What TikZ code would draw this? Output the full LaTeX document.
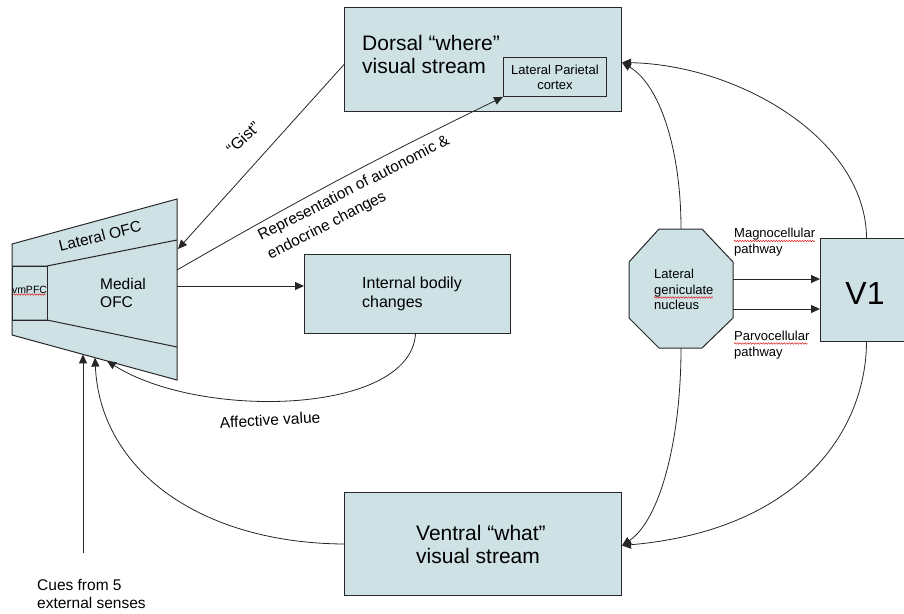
\documentclass[tikz,border=0pt]{standalone}
\usepackage{fontspec}
\setmainfont{Liberation Sans}
\usetikzlibrary{arrows.meta,decorations.pathmorphing}
\definecolor{boxfill}{RGB}{206,226,230}
\definecolor{edgecol}{RGB}{40,40,40}
\begin{document}
\begin{tikzpicture}[x=1pt,y=-1pt,
  box/.style={draw=edgecol, line width=1pt, fill=boxfill, inner sep=0pt},
  conn/.style={draw=black!85, line width=0.8pt},
  arr/.style={conn, -{Triangle[length=9pt,width=8pt]}},
  lbl/.style={inner sep=0pt, align=left},
  squig/.style={draw=red!85!black, line width=0.4pt, decorate,
    decoration={snake, amplitude=0.8pt, segment length=2.6pt}},
  fbig/.style={font=\fontsize{21}{22.5}\selectfont},
  fmid/.style={font=\fontsize{15.5}{18.5}\selectfont},
  fsmall/.style={font=\fontsize{13}{15.5}\selectfont},
]
\useasboundingbox (0,0) rectangle (904,613);

% ---------- OFC trapezoid ----------
\draw[edgecol, line width=1pt, fill=boxfill] (12,244) -- (177,199) -- (177,380) -- (12,335) -- cycle;
\draw[edgecol, line width=1pt] (12,266) -- (47,266) -- (177,240);
\draw[edgecol, line width=1pt] (12,320) -- (47,320) -- (177,347);
\node[draw=edgecol, line width=1pt, minimum width=35pt, minimum height=54pt, inner sep=0pt, anchor=north west] (vmpfc) at (12,266) {};
\begin{scope}
  \clip (12.5,266.5) rectangle (46.5,319.5);
  \node[inner sep=0pt, font=\fontsize{10.5}{12}\selectfont] (vmtext) at (29.5,290) {vmPFC};
\end{scope}
\draw[squig] (13,294.5) -- (46,294.5);
\node[lbl, fmid, rotate=14] (latofc) at (100,236) {Lateral OFC};
\node[lbl, fmid, anchor=west] (medofc) at (100,293) {Medial\\OFC};

\coordinate (ofcGist) at (178,249);
\coordinate (ofcRep)  at (177,270);
\coordinate (ofcMed)  at (177,286);
\coordinate (ofcB1)   at (83,354.4);
\coordinate (ofcB2)   at (95,357.6);
\coordinate (ofcB3)   at (107,360.9);

% ---------- Boxes ----------
\node[box, minimum width=277pt, minimum height=104pt, anchor=north west] (dorsal) at (344,7) {};
\node[lbl, fbig, anchor=west] (dorsaltxt) at (362,54.5) {Dorsal “where”\\visual stream};
\node[box, line width=0.9pt, minimum width=103pt, minimum height=39pt, anchor=north west, align=center,
      font=\fontsize{13}{15}\selectfont] (lp) at (503,57) {Lateral Parietal\\cortex};

\node[box, minimum width=206pt, minimum height=79pt, anchor=north west] (ibc) at (304,254) {};
\node[lbl, font=\fontsize{16}{18.5}\selectfont, anchor=west] (ibctxt) at (362,294) {Internal bodily\\changes};

\node[box, minimum width=277pt, minimum height=103pt, anchor=north west] (ventral) at (344,492) {};
\node[lbl, fbig, anchor=west] (ventraltxt) at (416,544.5) {Ventral “what”\\visual stream};

\node[box, minimum width=85pt, minimum height=103pt, anchor=north west] (v1) at (820,238) {};
\node[inner sep=0pt, font=\fontsize{32}{34}\selectfont] (v1txt) at (865,293) {V1};

% ---------- LGN octagon ----------
\draw[edgecol, line width=1pt, fill=boxfill]
  (659,229) -- (702,229) -- (733,262) -- (733,318) -- (702,348) -- (659,348) -- (629,318) -- (629,262) -- cycle;
\node[minimum width=104pt, minimum height=119pt, inner sep=0pt] (lgn) at (681,288.5) {};
\node[lbl, fsmall, anchor=west] (lgntxt) at (654,289.5) {Lateral\\geniculate\\nucleus};
\draw[squig] (654,297.5) -- (713,297.5);

% ---------- Pathway labels ----------
\node[lbl, fsmall, anchor=west] (magno) at (734,242) {Magnocellular\\pathway};
\draw[squig] (734,241) -- (815,241);
\node[lbl, fsmall, anchor=west] (parvo) at (734,345) {Parvocellular\\pathway};
\draw[squig] (734,343.5) -- (808,343.5);

\coordinate (m1) at ([yshift=9.5pt]lgn.east);
\coordinate (m2) at ([yshift=-20.5pt]lgn.east);
\draw[arr] (m1) -- (m1 -| v1.west);
\draw[arr] (m2) -- (m2 -| v1.west);

% ---------- Other labels ----------
\node[inner sep=0pt, font=\fontsize{16}{18}\selectfont, rotate=43] (gist) at (243,138) {“Gist”};
\node[inner sep=0pt, fmid, rotate=27.2, anchor=base west] (rep1) at (261,241) {Representation of autonomic \&};
\node[inner sep=0pt, fmid, rotate=27.2, anchor=base west] (rep2) at (270.5,259.5) {endocrine changes};
\node[inner sep=0pt, fmid, rotate=3] (affect) at (270,420) {Affective value};
\node[lbl, fmid, anchor=west] (cues) at (37,594) {Cues from 5\\external senses};
\coordinate (cuesTop) at (83,553);

% ---------- Connectors ----------
\draw[arr] ([yshift=-5pt]dorsal.west) -- (ofcGist);
\draw[arr] (ofcRep) to[bend left=2] (lp.south west);
\draw[arr] (ofcMed) -- (ofcMed -| ibc.west);
\draw[arr] ([xshift=8pt]ibc.south) .. controls (410,415) and (200,420) .. (ofcB3);
\draw[arr] (ventral.west) .. controls (200,543) and (100,470) .. (ofcB2);
\draw[arr] (cuesTop) -- (ofcB1);

\draw[arr] (lgn.north) .. controls (681,150) and (660,85) .. ([yshift=-3pt]dorsal.east);
\draw[arr] ([xshift=3.5pt]v1.north) .. controls (866,140) and (740,65) .. ([yshift=-3pt]dorsal.east);
\draw[arr] (lgn.south) .. controls (681,440) and (660,520) .. ([yshift=-1.5pt]ventral.east);
\draw[arr] ([xshift=3.5pt]v1.south) .. controls (866,430) and (800,530) .. ([yshift=-1.5pt]ventral.east);
\end{tikzpicture}
\end{document}
